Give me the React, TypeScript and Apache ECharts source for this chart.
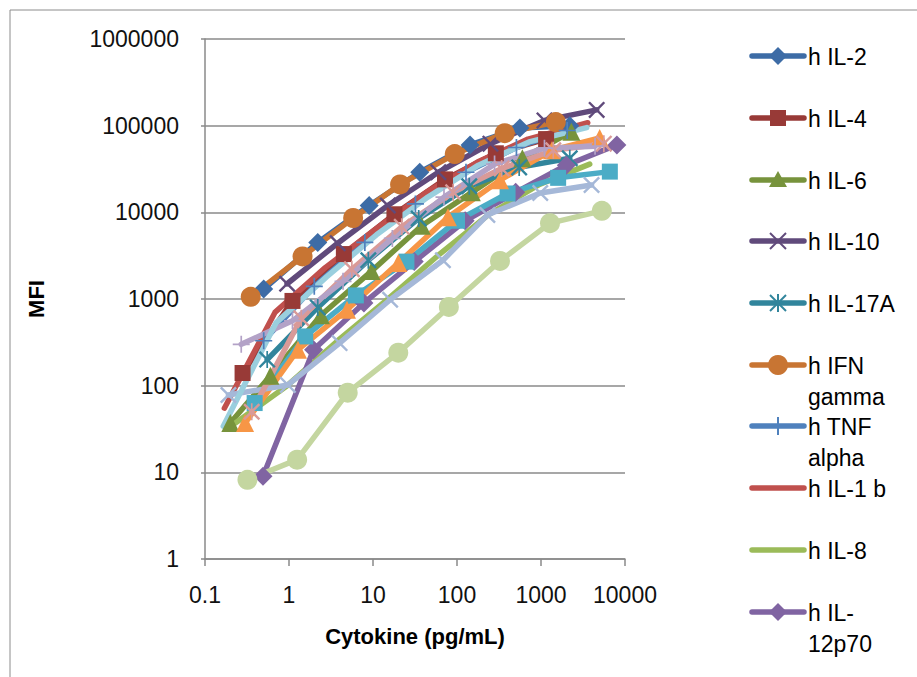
import React, { useEffect, useRef } from "react";
import * as echarts from "echarts";

// ---- Data ----
const xTicks = ["0.1", "1", "10", "100", "1000", "10000"];
const yTicks = ["1", "10", "100", "1000", "10000", "100000", "1000000"];

const il2X = [0.5, 2.2, 9, 36, 143, 560, 2200];
const il2Y = [1300, 4500, 12000, 29000, 60000, 94000, 100000];
const il4X = [0.28, 1.1, 4.5, 18, 72, 290, 1150];
const il4Y = [140, 950, 3300, 9500, 24000, 48000, 70000];
const il6X = [0.2, 0.6, 2.4, 9.6, 38, 150, 600, 2300];
const il6Y = [37, 130, 650, 2100, 7000, 17000, 42000, 85000];
const il10X = [0.95, 3.8, 15, 60, 250, 1100, 4600];
const il10Y = [1500, 4400, 12000, 29000, 62000, 115000, 152000];
const il17X = [0.55, 2.2, 8.8, 35, 140, 550, 2200];
const il17Y = [200, 800, 2800, 8500, 20000, 33000, 42000];
const ifnX = [0.35, 1.45, 5.8, 21, 94, 370, 1500];
const ifnY = [1060, 3100, 8600, 21000, 47000, 82000, 110000];
const tnfX = [0.5, 2, 8, 32, 128, 510, 2050];
const tnfY = [330, 1400, 4500, 12500, 29000, 56000, 88000];
const il1bX = [0.17, 0.68, 2.7, 11, 43, 175, 700, 3600];
const il1bY = [55, 700, 2300, 6500, 17000, 38000, 70000, 108000];
const il8X = [0.23, 0.95, 3.8, 15, 60, 240, 960, 3800];
const il8Y = [37, 100, 330, 1000, 3200, 9500, 21000, 36000];
const il12X = [0.49, 1.96, 7.8, 31, 125, 500, 2000, 8000];
const il12Y = [9, 260, 900, 2700, 8000, 17000, 35000, 60000];
const s11X = [0.39, 1.56, 6.25, 25, 100, 400, 1600, 6600];
const s11Y = [63, 370, 1100, 2700, 8000, 16500, 25000, 29500];
const s12X = [0.3, 1.28, 4.9, 20, 78, 325, 1350, 5000];
const s12Y = [37, 260, 750, 2600, 8800, 23500, 52000, 72000];
const s13X = [0.19, 0.97, 4, 16, 68, 230, 980, 4000];
const s13Y = [78, 102, 310, 980, 2800, 9300, 16700, 20700];
const s14X = [0.36, 1.4, 5.6, 22, 90, 340, 1400, 5600];
const s14Y = [50, 600, 2200, 6800, 17000, 32000, 52000, 62000];
const s15X = [0.32, 1.25, 5, 20, 80, 325, 1280, 5300];
const s15Y = [8.2, 14, 83, 240, 810, 2750, 7500, 10400];
const s16X = [0.27, 1.1, 4.4, 17, 70, 280, 1100, 4400];
const s16Y = [300, 560, 1600, 5000, 15000, 36000, 55000, 58000];
const s17X = [0.165, 0.7, 2.8, 11, 45, 180, 720, 3500];
const s17Y = [34, 530, 1800, 5500, 15000, 35000, 65000, 95000];

const seriesNames = [
  "h IL-2", "h IL-4", "h IL-6", "h IL-10", "h IL-17A", "h IFN gamma",
  "h TNF alpha", "h IL-1 b", "h IL-8", "h IL-12p70",
  "Series 11", "Series 12", "Series 13", "Series 14", "Series 15", "Series 16", "Series 17",
];
const seriesX = [il2X, il4X, il6X, il10X, il17X, ifnX, tnfX, il1bX, il8X, il12X, s11X, s12X, s13X, s14X, s15X, s16X, s17X];
const seriesY = [il2Y, il4Y, il6Y, il10Y, il17Y, ifnY, tnfY, il1bY, il8Y, il12Y, s11Y, s12Y, s13Y, s14Y, s15Y, s16Y, s17Y];

// ---- Styles ----
const colors = [
  "#3D6CA6", "#983A37", "#77933C", "#604A7B", "#31859C", "#C87533",
  "#4F81BD", "#C0504D", "#9BBB59", "#8064A2",
  "#4BACC6", "#F79646", "#A5B8D8", "#D99A98", "#C4D6A0", "#B3A2C7", "#9ACFDE",
];
const markers = [
  "diamond", "square", "triangle", "x", "asterisk", "circle",
  "plus", "none", "none", "diamond",
  "square", "triangle", "x", "asterisk", "circle", "plus", "none",
];

const X_PATH = "path://M2,0 L10,8 L18,0 L20,2 L12,10 L20,18 L18,20 L10,12 L2,20 L0,18 L8,10 L0,2 Z";
const PLUS_PATH = "path://M9,0 L11,0 L11,9 L20,9 L20,11 L11,11 L11,20 L9,20 L9,11 L0,11 L0,9 L9,9 Z";
const AST_PATH = "path://M2,0 L10,8 L18,0 L20,2 L12,10 L20,18 L18,20 L10,12 L2,20 L0,18 L8,10 L0,2 Z M9,0 L11,0 L11,20 L9,20 Z";

function symbolFor(m: string): [string, number] {
  switch (m) {
    case "diamond": return ["diamond", 19];
    case "square": return ["rect", 16];
    case "triangle": return ["triangle", 18];
    case "x": return [X_PATH, 17];
    case "asterisk": return [AST_PATH, 17];
    case "circle": return ["circle", 20];
    case "plus": return [PLUS_PATH, 17];
    default: return ["none", 0];
  }
}

const legendCount = 10;
const legendY = [56, 118, 180, 241, 303, 365, 426, 488, 550, 612];
const legendLabels = ["h IL-2", "h IL-4", "h IL-6", "h IL-10", "h IL-17A", "h IFN\ngamma", "h TNF\nalpha", "h IL-1 b", "h IL-8", "h IL-\n12p70"];

const FONT = '"Liberation Sans", Arial, sans-serif';

function legendMarker(m: string, cx: number, cy: number, color: string): any[] {
  const s = 8;
  switch (m) {
    case "diamond":
      return [{ type: "polygon", shape: { points: [[cx, cy - 9], [cx + 9, cy], [cx, cy + 9], [cx - 9, cy]] }, style: { fill: color } }];
    case "square":
      return [{ type: "rect", shape: { x: cx - 8, y: cy - 8, width: 16, height: 16 }, style: { fill: color } }];
    case "triangle":
      return [{ type: "polygon", shape: { points: [[cx, cy - 9], [cx + 9, cy + 7], [cx - 9, cy + 7]] }, style: { fill: color } }];
    case "circle":
      return [{ type: "circle", shape: { cx, cy, r: 10 }, style: { fill: color } }];
    case "x":
      return [
        { type: "line", shape: { x1: cx - s, y1: cy - s, x2: cx + s, y2: cy + s }, style: { stroke: color, lineWidth: 2 } },
        { type: "line", shape: { x1: cx - s, y1: cy + s, x2: cx + s, y2: cy - s }, style: { stroke: color, lineWidth: 2 } },
      ];
    case "asterisk":
      return [
        { type: "line", shape: { x1: cx - s, y1: cy - s, x2: cx + s, y2: cy + s }, style: { stroke: color, lineWidth: 2 } },
        { type: "line", shape: { x1: cx - s, y1: cy + s, x2: cx + s, y2: cy - s }, style: { stroke: color, lineWidth: 2 } },
        { type: "line", shape: { x1: cx, y1: cy - s - 1, x2: cx, y2: cy + s + 1 }, style: { stroke: color, lineWidth: 2 } },
      ];
    case "plus":
      return [
        { type: "line", shape: { x1: cx, y1: cy - s - 1, x2: cx, y2: cy + s + 1 }, style: { stroke: color, lineWidth: 2 } },
      ];
    default:
      return [];
  }
}

export default function App() {
  const ref = useRef<HTMLDivElement>(null);
  useEffect(() => {
    if (!ref.current) return;
    const chart = echarts.init(ref.current, undefined, { renderer: "svg" });

    const series = seriesNames.map((name, i) => {
      const [sym, size] = symbolFor(markers[i]);
      return {
        name,
        type: "line",
        data: seriesX[i].map((x, k) => [x, seriesY[i][k]]),
        symbol: sym,
        symbolSize: size,
        symbolKeepAspect: true,
        showSymbol: sym !== "none",
        lineStyle: { color: colors[i], width: 5.5, cap: "round", join: "round" },
        itemStyle: { color: colors[i] },
        emphasis: { disabled: true },
        silent: true,
        clip: false,
      };
    });

    const legendEls: any[] = [];
    for (let i = 0; i < legendCount; i++) {
      const cy = legendY[i];
      legendEls.push({
        type: "line",
        shape: { x1: 752, y1: cy, x2: 804, y2: cy },
        style: { stroke: colors[i], lineWidth: 5.5, lineCap: "round" },
      });
      legendEls.push(...legendMarker(markers[i], 778, cy, colors[i]));
      legendEls.push({
        type: "text",
        x: 808,
        y: cy - 15,
        style: {
          text: legendLabels[i],
          font: `23px ${FONT}`,
          fill: "#000",
          align: "left",
          verticalAlign: "top",
          lineHeight: 31,
        },
      });
    }

    const fmt = (v: number) => String(Number(v.toPrecision(6)));

    chart.setOption({
      animation: false,
      backgroundColor: "#fff",
      grid: { left: 205, top: 39, width: 420, height: 520 },
      xAxis: {
        type: "log",
        logBase: 10,
        min: 0.1,
        max: 10000,
        axisLine: { show: true, lineStyle: { color: "#8a8a8a", width: 1.5 } },
        axisTick: { show: true, length: 7, lineStyle: { color: "#8a8a8a", width: 1.5 } },
        minorTick: { show: false },
        splitLine: { show: false },
        axisLabel: {
          margin: 24,
          fontSize: 23,
          fontFamily: FONT,
          color: "#111",
          formatter: (v: number) => {
            const s = fmt(v);
            return xTicks.includes(s) ? s : "";
          },
        },
      },
      yAxis: {
        type: "log",
        logBase: 10,
        min: 1,
        max: 1000000,
        axisLine: { show: true, lineStyle: { color: "#8a8a8a", width: 1.5 } },
        axisTick: { show: true, length: 4, lineStyle: { color: "#8a8a8a", width: 1.5 } },
        splitLine: { show: true, lineStyle: { color: "#8a8a8a", width: 1.5 } },
        axisLabel: {
          margin: 26,
          fontSize: 23,
          fontFamily: FONT,
          color: "#111",
          formatter: (v: number) => {
            const s = fmt(v);
            return yTicks.includes(s) ? s : "";
          },
        },
      },
      series,
      graphic: [
        {
          type: "rect",
          shape: { x: 10, y: 10, width: 1000, height: 1000 },
          style: { fill: "none", stroke: "#8c8c8c", lineWidth: 1 },
          silent: true,
          z: -10,
        },
        {
          type: "text",
          x: 36,
          y: 299,
          rotation: Math.PI / 2,
          style: {
            text: "MFI",
            font: `bold 22px ${FONT}`,
            fill: "#000",
            align: "center",
            verticalAlign: "middle",
          },
        },
        {
          type: "text",
          x: 415,
          y: 636,
          style: {
            text: "Cytokine (pg/mL)",
            font: `bold 22px ${FONT}`,
            fill: "#000",
            align: "center",
            verticalAlign: "middle",
          },
        },
        ...legendEls,
      ],
    });
    return () => chart.dispose();
  }, []);
  return (
    <div
      ref={ref}
      style={{ position: "fixed", left: 0, top: 0, width: 917, height: 677 }}
    />
  );
}
